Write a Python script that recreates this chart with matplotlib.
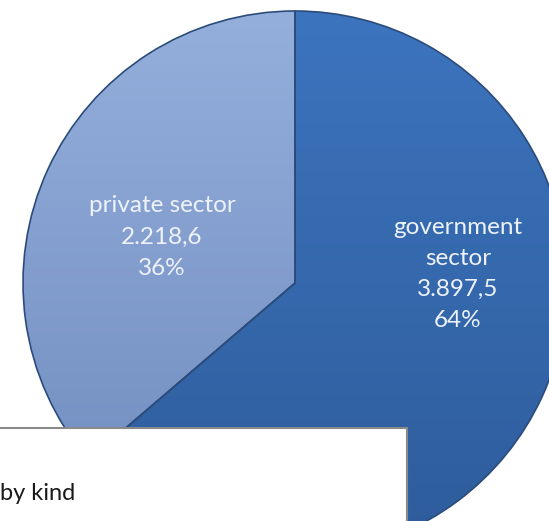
import matplotlib.pyplot as plt
import numpy as np
from matplotlib.colors import LinearSegmentedColormap
from matplotlib.patches import Rectangle

plt.rcParams['font.family'] = ['Lato', 'DejaVu Sans']

# sector split (values in local format on the labels)
labels = ["private sector", "government\nsector"]
values = [2218.6, 3897.5]
top_colors = ["#95AFDC", "#3C74BE"]
bottom_colors = ["#6E8BBE", "#2E5C9B"]
label_pos = [(162, 284), (458, 247)]
footer = "by kind"

W, H = 549, 521
fig = plt.figure(figsize=(W / 100, H / 100), dpi=100)
ax = fig.add_axes([0, 0, 1, 1])

cx, cy, r = 295, 238, 272
wedges, _ = ax.pie(values, startangle=90, center=(cx, cy), radius=r,
                   wedgeprops=dict(facecolor="none", edgecolor="#2b4c7a",
                                   linewidth=1.2, zorder=3))

# vertical shading inside each slice
grad = np.linspace(0, 1, 256).reshape(-1, 1)
for w, ct, cb in zip(wedges, top_colors, bottom_colors):
    cmap = LinearSegmentedColormap.from_list("s", [cb, ct])
    im = ax.imshow(grad, cmap=cmap, origin="lower", aspect="auto",
                   extent=(cx - r, cx + r, cy - r, cy + r), zorder=2)
    im.set_clip_path(w)

total = sum(values)
for lab, v, (x, y) in zip(labels, values, label_pos):
    num = f"{v:,.1f}".replace(",", "#").replace(".", ",").replace("#", ".")
    pct = round(v / total * 100)
    ax.text(x, y, f"{lab}\n{num}\n{pct}%", ha="center", va="center",
            color="#EEF2FA", fontsize=17.5, linespacing=1.6, zorder=5)

# title box lying over the lower left of the pie
ax.add_patch(Rectangle((-5, -5), 412, 98, facecolor="white",
                       edgecolor="#8a8a8a", linewidth=1.5, zorder=6))
ax.text(0, 21, footer, ha="left", va="baseline", fontsize=17,
        color="#1a1a1a", zorder=7)

ax.set_xlim(0, W)
ax.set_ylim(0, H)
ax.set_aspect("auto")
ax.axis("off")
fig.savefig("out.png", dpi=100)
